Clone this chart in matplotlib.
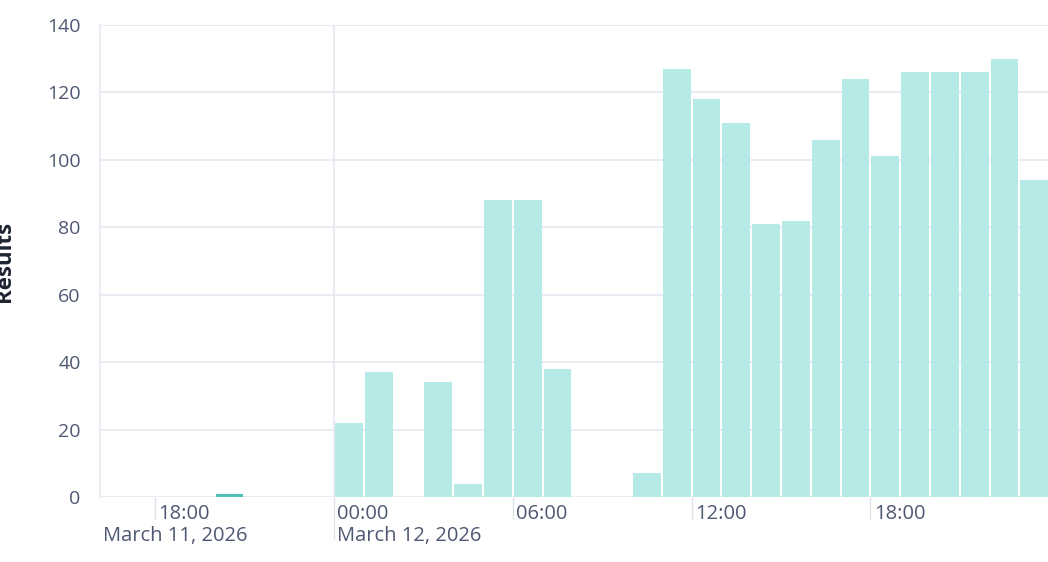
import matplotlib
matplotlib.use("Agg")
import matplotlib.pyplot as plt

# ---- data (hours since March 11, 2026 00:00) ----
hours = list(range(16, 48))
counts = [0, 0, 0, 0, 1, 0, 0, 0,            # March 11, 16:00-23:00
          22, 37, 0, 34, 4, 88, 88, 38,      # March 12, 00:00-07:00
          0, 0, 7, 127, 118, 111, 81, 82,    # 08:00-15:00
          106, 124, 101, 126, 126, 126, 130, 94]  # 16:00-23:00
highlight_hour = 20

tick_hours = [18, 24, 30, 36, 42]
tick_labels = ["18:00", "00:00", "06:00", "12:00", "18:00"]
day_hours = [16.15, 24]
day_labels = ["March 11, 2026", "March 12, 2026"]
y_ticks = [0, 20, 40, 60, 80, 100, 120, 140]
y_label = "Results"

# ---- style ----
plt.rcParams['font.family'] = ['Open Sans', 'DejaVu Sans']
bar_color = "#b5eae7"
hi_color = "#4cc3b6"
grid_color = "#e6e9f1"
text_color = "#4f5872"

W, H = 1048, 562
fig = plt.figure(figsize=(W / 100, H / 100), dpi=100)
ax = fig.add_axes([100 / W, 1 - 497 / H, 1 - 100 / W, (497 - 25) / H])

colors = [hi_color if h == highlight_hour else bar_color for h in hours]
ax.bar([h + 0.035 for h in hours], counts, width=0.93, align='edge',
       color=colors, edgecolor='none', linewidth=0, zorder=3)

ax.set_xlim(16.15, 47.96)
ax.set_ylim(0, 140)
ax.set_yticks(y_ticks)
ax.yaxis.grid(True, color=grid_color, linewidth=1.2, zorder=0)
ax.set_axisbelow(True)
ax.axvline(24, color=grid_color, linewidth=1.2, zorder=1)

for s in ['top', 'right', 'bottom']:
    ax.spines[s].set_visible(False)
ax.spines['left'].set_color(grid_color)
ax.spines['left'].set_linewidth(1.2)

ax.tick_params(axis='y', length=0, pad=14, labelsize=14, labelcolor=text_color)

# x ticks: lines below axis, labels drawn to the right of them
ax.set_xticks(tick_hours)
ax.tick_params(axis='x', direction='out', length=16, width=1.0,
               color="#dfe2ea", labelbottom=False)
for t, h in zip(ax.xaxis.get_major_ticks(), tick_hours):
    if h == 24:
        t.tick1line.set_markersize(31)

for h, lab in zip(tick_hours, tick_labels):
    ax.annotate(lab, xy=(h, 0), xycoords=('data', 'axes fraction'),
                xytext=(2.5, -5), textcoords='offset points',
                ha='left', va='top', fontsize=14.5, color=text_color)
for h, lab in zip(day_hours, day_labels):
    ax.annotate(lab, xy=(h, 0), xycoords=('data', 'axes fraction'),
                xytext=(2.5, -21), textcoords='offset points',
                ha='left', va='top', fontsize=14.5, color=text_color)

fig.text(15 / W, 1 - 261 / H, y_label, rotation=90, ha='right', va='center',
         fontsize=16, fontweight='bold', color="#1f2433")

fig.savefig("out.png", dpi=100, facecolor='white')
